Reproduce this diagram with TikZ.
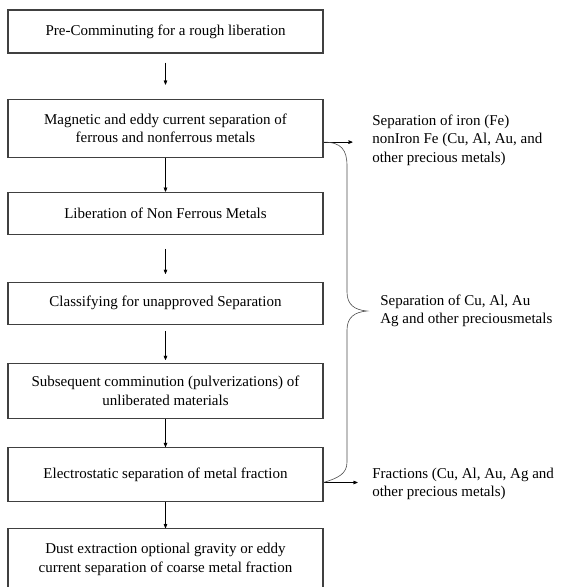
\documentclass[tikz,border=0pt]{standalone}
\usepackage{fontspec}
\setmainfont{Liberation Serif}
\usetikzlibrary{arrows,positioning,calc}

\begin{document}
\begin{tikzpicture}[->,>=stealth',x=1pt,y=-1pt,semithick,
    every node/.style={font=\fontsize{15}{18.5}\selectfont}]
    \tikzstyle{stepbox}=[draw=black!75,line width=1.1pt,minimum width=315pt,
    align=center,inner sep=2pt]
    \tikzstyle{outtext}=[align=left,anchor=west,inner sep=0pt]
    \useasboundingbox (0,0) rectangle (562,587);

    \node[stepbox,minimum height=43pt] (P) at (165.5,31.5) {Pre-Comminuting for a rough liberation};
    \node[stepbox,minimum height=58pt] (M) [below=45pt of P] {Magnetic and eddy current separation of\\ferrous and nonferrous metals};
    \node[stepbox,minimum height=42pt] (L) [below=34pt of M] {Liberation of Non Ferrous Metals};
    \node[stepbox,minimum height=42pt] (C) [below=47pt of L] {Classifying for unapproved Separation};
    \node[stepbox,minimum height=55pt] (S) [below=38pt of C] {Subsequent comminution (pulverizations) of\\unliberated materials};
    \node[stepbox,minimum height=54pt] (E) [below=28pt of S] {Electrostatic separation of metal fraction};
    \node[stepbox,minimum height=62pt] (D) [below=26pt of E] {Dust extraction optional gravity or eddy\\current separation of coarse metal fraction};

    \node[outtext] (Fe) at (372,140) {Separation of iron (Fe)\\nonIron Fe (Cu, Al, Au, and\\other precious metals)};
    \node[outtext] (Cu) at (380,311) {Separation of Cu, Al, Au\\Ag and other preciousmetals};
    \node[outtext] (Fr) at (372,484) {Fractions (Cu, Al, Au, Ag and\\other precious metals)};

    \path (P) edge[shorten <=9pt,shorten >=14pt] (M) (M) edge (L) (L) edge[shorten
    <=14pt,shorten >=8pt] (C) (C) edge[shorten <=6pt,shorten >=3pt] (S) (S) edge (E)
    (E) edge (D);

    \coordinate (mout) at ($(M.east)+(0,14)$); \coordinate (eout) at ($(E.east)+(0,8)$);
    \coordinate (tip) at ($(Cu.west)+(-13,0)$);
    \draw (mout) -- ++(29,0); \draw (eout) -- ++(34,0);

    % brace from the magnetic box down to the electrostatic box
    \draw[-,black!70] (mout) .. controls ++(18,0) and (347,150) .. (347,166) -- (347,292)
    .. controls (347,305) and (355,310) .. (tip) .. controls (355,312) and (347,317) ..
    (347,330) -- (347,462) .. controls (347,474) and (338,478) .. (eout);

\end{tikzpicture}
\end{document}
